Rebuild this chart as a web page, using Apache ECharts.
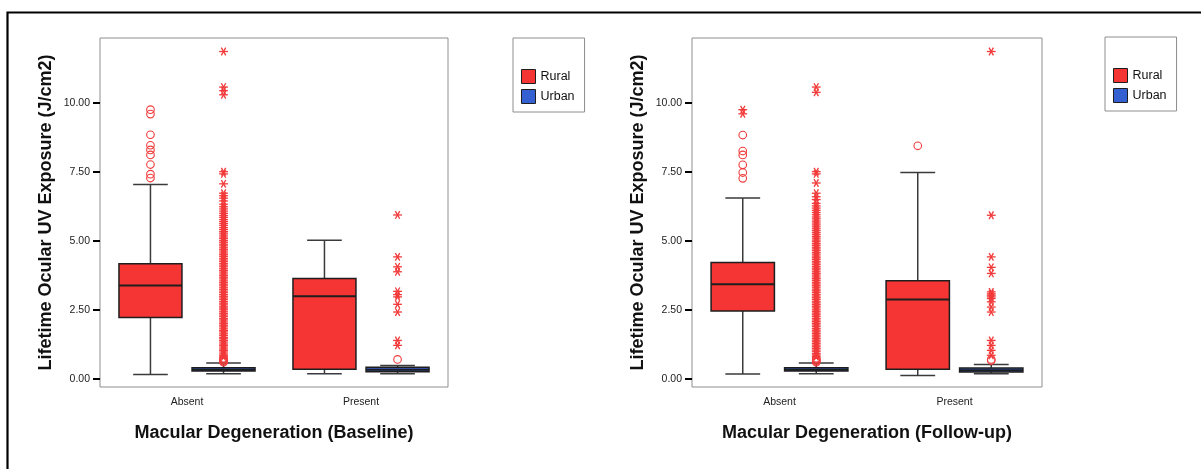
<!DOCTYPE html>
<html>
<head>
<meta charset="utf-8">
<script src="https://cdn.jsdelivr.net/npm/echarts@6/dist/echarts.min.js"></script>
<style>
  html, body { margin: 0; padding: 0; background: #fff; }
  #chart { width: 1201px; height: 469px; }
</style>
</head>
<body>
<div id="chart"></div>
<script>
// ---- data -------------------------------------------------------------
const categories = ['Absent', 'Present'];
const groups = ['Rural', 'Urban'];
const yTicks = [0, 2.5, 5, 7.5, 10];
const xTitles = ['Macular Degeneration (Baseline)', 'Macular Degeneration (Follow-up)'];
const yTitle = 'Lifetime Ocular UV Exposure (J/cm2)';

// five-number summaries per category: [lower whisker, Q1, median, Q3, upper whisker]
const baselineRuralBox = [[0.15, 2.22, 3.38, 4.17, 7.05], [0.18, 0.34, 2.99, 3.64, 5.02]];
const baselineUrbanBox = [[0.18, 0.28, 0.33, 0.40, 0.57], [0.18, 0.25, 0.33, 0.42, 0.48]];
const followupRuralBox = [[0.17, 2.46, 3.43, 4.22, 6.56], [0.12, 0.34, 2.87, 3.55, 7.48]];
const followupUrbanBox = [[0.18, 0.28, 0.33, 0.40, 0.57], [0.18, 0.24, 0.31, 0.39, 0.52]];

// outliers (circles) and extremes (asterisks), one list per category
const baselineRuralCircles = [[7.28, 7.42, 7.77, 8.12, 8.30, 8.47, 8.85, 9.60, 9.76], []];
const baselineRuralStars = [[], []];
const baselineUrbanCircles = [[0.60, 0.63, 0.67, 0.70, 0.74], [0.70]];
const baselineUrbanStars = [
  [0.79, 0.85, 0.90, 0.97, 1.03, 1.08, 1.15, 1.21, 1.26, 1.33, 1.39, 1.45, 1.50, 1.57, 1.63,
   1.70, 1.75, 1.81, 1.88, 1.94, 2.00, 2.06, 2.13, 2.18, 2.25, 2.31, 2.37, 2.43, 2.50, 2.56,
   2.61, 2.68, 2.74, 2.80, 2.87, 2.93, 2.99, 3.05, 3.12, 3.18, 3.24, 3.30, 3.37, 3.43, 3.49,
   3.55, 3.62, 3.68, 3.74, 3.80, 3.87, 3.93, 3.99, 4.06, 4.12, 4.18, 4.25, 4.31, 4.37, 4.44,
   4.50, 4.56, 4.63, 4.69, 4.75, 4.82, 4.88, 4.95, 5.01, 5.08, 5.14, 5.21, 5.28, 5.34, 5.41,
   5.48, 5.56, 5.63, 5.70, 5.77, 5.85, 5.92, 6.00, 6.08, 6.16, 6.24, 6.33, 6.45, 6.55, 6.64,
   6.73, 7.07, 7.43, 7.51, 10.30, 10.45, 10.58, 11.87],
  [1.21, 1.39, 2.42, 2.70, 2.97, 3.05, 3.17, 3.88, 4.06, 4.42, 5.94]
];
const followupRuralCircles = [[7.27, 7.48, 7.76, 8.12, 8.26, 8.84], [8.45]];
const followupRuralStars = [[9.61, 9.76], []];
const followupUrbanCircles = [[0.60, 0.63, 0.67, 0.70, 0.74], [0.66, 0.70]];
const followupUrbanStars = [
  [0.80, 0.86, 0.91, 0.98, 1.04, 1.10, 1.16, 1.22, 1.28, 1.34, 1.40, 1.46, 1.52, 1.58, 1.64,
   1.70, 1.76, 1.82, 1.89, 1.95, 2.01, 2.07, 2.13, 2.19, 2.26, 2.32, 2.38, 2.44, 2.50, 2.57,
   2.63, 2.69, 2.75, 2.81, 2.88, 2.94, 3.00, 3.06, 3.13, 3.19, 3.25, 3.32, 3.38, 3.44, 3.50,
   3.57, 3.63, 3.69, 3.76, 3.82, 3.88, 3.95, 4.01, 4.07, 4.14, 4.20, 4.26, 4.33, 4.39, 4.45,
   4.52, 4.58, 4.65, 4.71, 4.77, 4.84, 4.90, 4.97, 5.03, 5.10, 5.16, 5.23, 5.30, 5.37, 5.44,
   5.51, 5.58, 5.65, 5.72, 5.80, 5.87, 5.95, 6.03, 6.11, 6.19, 6.27, 6.36, 6.50, 6.60, 6.73,
   7.10, 7.43, 7.51, 10.39, 10.58],
  [0.85, 1.03, 1.21, 1.39, 2.42, 2.60, 2.79, 2.91, 2.97, 3.03, 3.08, 3.15, 3.82, 4.04, 4.42, 5.93, 11.87]
];

// ---- styling ----------------------------------------------------------
const FONT = 'Arial, "Liberation Sans", Helvetica, sans-serif';
const RURAL = '#f43533';
const URBAN = '#3560d2';
const MARK = '#f23a3a';
const EDGE = '#1e1e1e';
const WHISKER = '#3a3a3a';
const OFFSET = 0.21;   // box centre offset from category centre, in bands
const BOX_W = 0.362;   // box width, in bands

const panels = [
  { left: 100, width: 348, legendLeft: 513, legendTop: 38,
    rural: [baselineRuralBox, baselineRuralCircles, baselineRuralStars],
    urban: [baselineUrbanBox, baselineUrbanCircles, baselineUrbanStars] },
  { left: 692, width: 350, legendLeft: 1105, legendTop: 37,
    rural: [followupRuralBox, followupRuralCircles, followupRuralStars],
    urban: [followupUrbanBox, followupUrbanCircles, followupUrbanStars] }
];

function renderBox(side, fill) {
  return function (params, api) {
    const cat = api.value(0);
    const band = api.size([1, 0])[0];
    const cx = api.coord([cat, 0])[0] + side * OFFSET * band;
    const half = BOX_W * band / 2;
    const capHalf = half * 0.55;
    const y = k => api.coord([cat, api.value(k)])[1];
    const lo = y(1), q1 = y(2), med = y(3), q3 = y(4), hi = y(5);
    const seg = (x1, y1, x2, y2, w, c) => ({
      type: 'line', shape: { x1, y1, x2, y2 },
      style: { stroke: c || WHISKER, lineWidth: w || 1.5 }
    });
    return {
      type: 'group',
      children: [
        seg(cx, hi, cx, q3), seg(cx, q1, cx, lo),
        seg(cx - capHalf, hi, cx + capHalf, hi), seg(cx - capHalf, lo, cx + capHalf, lo),
        { type: 'rect', shape: { x: cx - half, y: q3, width: 2 * half, height: q1 - q3 },
          style: { fill: fill, stroke: EDGE, lineWidth: 1.5 } },
        seg(cx - half, med, cx + half, med, 2, EDGE)
      ]
    };
  };
}

function renderMark(side) {
  return function (params, api) {
    const cat = api.value(0);
    const band = api.size([1, 0])[0];
    const p = api.coord([cat, api.value(1)]);
    const cx = p[0] + side * OFFSET * band, cy = p[1];
    if (api.value(2) === 0) {
      return { type: 'circle', shape: { cx, cy, r: 3.8 },
               style: { fill: 'none', stroke: MARK, lineWidth: 1.1 } };
    }
    const r = 4.4;
    return {
      type: 'group',
      children: [0, 60, 120].map(a => {
        const t = a * Math.PI / 180;
        return { type: 'line',
          shape: { x1: cx - r * Math.cos(t), y1: cy - r * Math.sin(t),
                   x2: cx + r * Math.cos(t), y2: cy + r * Math.sin(t) },
          style: { stroke: MARK, lineWidth: 1.3 } };
      })
    };
  };
}

const grid = [], xAxis = [], yAxis = [], series = [], legend = [];

panels.forEach((pn, gi) => {
  grid.push({ left: pn.left, top: 38, width: pn.width, height: 349, show: true,
              borderColor: '#8e8e8e', borderWidth: 1, backgroundColor: '#fff' });
  xAxis.push({
    type: 'category', gridIndex: gi, data: categories, boundaryGap: true,
    axisLine: { show: false },
    axisTick: { alignWithLabel: true, length: 6, lineStyle: { color: '#000', width: 2 } },
    axisLabel: { margin: 10, fontSize: 10.5, color: '#222', fontFamily: FONT },
    name: xTitles[gi], nameLocation: 'middle', nameGap: 37,
    nameTextStyle: { fontSize: 18, fontWeight: 'bold', color: '#111', fontFamily: FONT }
  });
  yAxis.push({
    type: 'value', gridIndex: gi, min: -0.3, max: 12.36,
    splitLine: { show: false }, axisLine: { show: false },
    axisTick: { show: true, length: 7, customValues: yTicks, lineStyle: { color: '#000', width: 2 } },
    axisLabel: { margin: 10, fontSize: 10.5, color: '#222', fontFamily: FONT,
                 customValues: yTicks, formatter: v => v.toFixed(2) },
    name: yTitle, nameLocation: 'middle', nameGap: 45,
    nameTextStyle: { fontSize: 18, fontWeight: 'bold', color: '#111', fontFamily: FONT }
  });
  [['Rural', pn.rural, -1, RURAL], ['Urban', pn.urban, 1, URBAN]].forEach(([name, d, side, fill]) => {
    const [boxes, circles, stars] = d;
    series.push({
      type: 'custom', name: name, xAxisIndex: gi, yAxisIndex: gi,
      itemStyle: { color: fill },
      encode: { x: 0, y: [1, 2, 3, 4, 5] },
      data: boxes.map((b, i) => [i].concat(b)),
      renderItem: renderBox(side, fill), z: 2
    });
    const marks = [];
    circles.forEach((list, i) => list.forEach(v => marks.push([i, v, 0])));
    stars.forEach((list, i) => list.forEach(v => marks.push([i, v, 1])));
    series.push({
      type: 'custom', name: name, xAxisIndex: gi, yAxisIndex: gi,
      itemStyle: { color: fill },
      encode: { x: 0, y: 1 },
      data: marks,
      renderItem: renderMark(side), z: 3
    });
  });
  legend.push({
    left: pn.legendLeft, top: pn.legendTop, orient: 'vertical',
    padding: [31, 10, 8, 8], itemGap: 5, itemWidth: 14, itemHeight: 14, itemTextGap: 4,
    borderColor: '#8e8e8e', borderWidth: 1, icon: 'rect', selectedMode: false,
    textStyle: { fontSize: 12.5, color: '#111', fontFamily: FONT, lineHeight: 14 },
    data: groups.map((g, k) => ({ name: g,
      itemStyle: { color: k === 0 ? RURAL : URBAN, borderColor: EDGE, borderWidth: 1 } }))
  });
});

const chart = echarts.init(document.getElementById('chart'), null, { renderer: 'canvas' });
chart.setOption({
  animation: false,
  backgroundColor: '#fff',
  textStyle: { fontFamily: FONT },
  grid, xAxis, yAxis, series, legend,
  graphic: [{
    type: 'polyline', silent: true,
    shape: { points: [[7.5, 470], [7.5, 12.5], [1202, 12.5]] },
    style: { stroke: '#000', fill: null, lineWidth: 2.2 }
  }]
});
</script>
</body>
</html>
